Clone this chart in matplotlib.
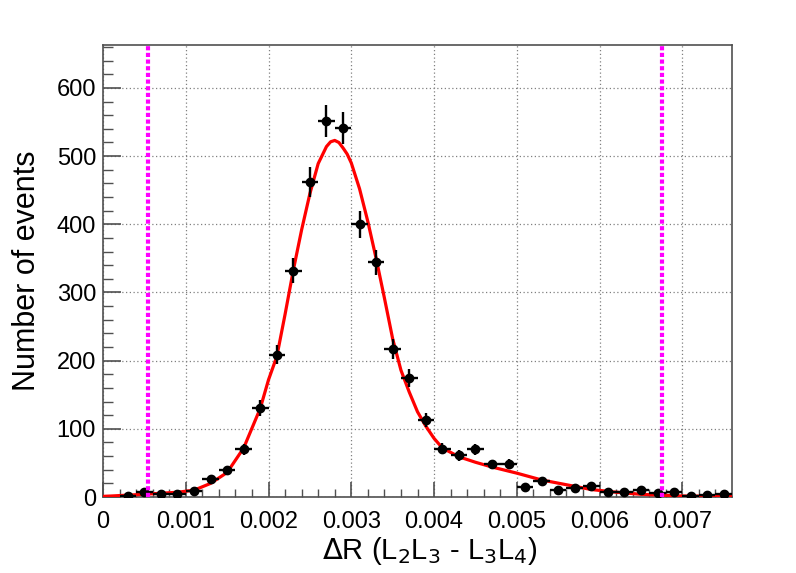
import numpy as np
import matplotlib
matplotlib.use("Agg")
import matplotlib.pyplot as plt

plt.rcParams['font.family'] = ['Liberation Sans', 'DejaVu Sans']

# Histogram: bin centres (width 0.0002) and counts
bin_centers = np.arange(0.0001, 0.0076, 0.0002)
counts = np.array([0, 1, 8, 4, 4, 9, 26, 39, 70, 131,
                   209, 332, 462, 551, 541, 400, 344, 217, 175, 113,
                   71, 61, 70, 48, 49, 15, 23, 11, 13, 16,
                   7, 7, 11, 6, 7, 1, 3, 4])

fit_x = [0, 0.0001, 0.0005, 0.0009, 0.0011, 0.0013, 0.0015, 0.0017, 0.0019,
         0.0020, 0.0021, 0.0022, 0.0023, 0.0024, 0.0025, 0.0026, 0.0027,
         0.00275, 0.0028, 0.00285, 0.0029, 0.00295,
         0.0030, 0.0031, 0.0032, 0.0033, 0.0034, 0.0035, 0.0036, 0.0037,
         0.0038, 0.0039, 0.0040, 0.0041, 0.0043, 0.0045, 0.0047, 0.0050,
         0.0053, 0.0056, 0.0059, 0.0062, 0.0065, 0.0070, 0.0076]
fit_y = [1, 1.5, 4, 7, 10, 20, 36, 72, 130,
         172, 206, 268, 333, 392, 445, 489, 514,
         521, 523, 520, 512, 503,
         490, 452, 404, 350, 292, 232, 186, 154,
         125, 104, 86, 72, 59, 51, 44, 35,
         25, 18, 11, 7, 4, 1.5, 1]

# selection window
cut_lo = 0.00054
cut_hi = 0.00676

fig = plt.figure(figsize=(7.96, 5.73), dpi=100)
ax = fig.add_axes([0.1294, 0.1326, 0.7902, 0.7889])

ax.set_xlim(0, 0.0076)
ax.set_ylim(0, 663)
ax.grid(True, color='#808080', linestyle=(0, (1, 2)), linewidth=0.9)
ax.set_axisbelow(True)

ax.plot(fit_x, fit_y, color='#ff0000', linewidth=2.3, zorder=3)

# empty bins are not drawn
mask = counts > 0
ax.errorbar(bin_centers[mask], counts[mask], xerr=0.0001,
            yerr=np.sqrt(counts[mask]),
            fmt='o', color='black', markersize=6, elinewidth=1.7,
            capsize=0, zorder=4)

for xc in (cut_lo, cut_hi):
    ax.axvline(xc, color='#ff00ff', linewidth=3, linestyle=(0, (1, 0.6)), zorder=5)

ax.set_xticks(np.arange(0, 0.0071, 0.001))
ax.set_xticklabels(['0', '0.001', '0.002', '0.003', '0.004', '0.005', '0.006', '0.007'])
ax.set_xticks(np.arange(0, 0.0076, 0.0002), minor=True)
ax.set_yticks(np.arange(0, 601, 100))
ax.set_yticks(np.arange(0, 661, 20), minor=True)

ax.tick_params(axis='both', which='both', direction='in', top=False, right=False,
               labelsize=17, color='#505050')
ax.tick_params(axis='x', which='major', length=11, width=1.2, pad=10)
ax.tick_params(axis='x', which='minor', length=6, width=1.0)
ax.tick_params(axis='y', which='major', length=13, width=1.2, pad=5)
ax.tick_params(axis='y', which='minor', length=7, width=1.0)

for s in ax.spines.values():
    s.set_color('#505050')
    s.set_linewidth(1.2)

ax.set_xlabel(r'$\Delta$R (L$_2$L$_3$ - L$_3$L$_4$)', fontsize=21)
ax.xaxis.set_label_coords(0.52, -0.085)
ax.set_ylabel('Number of events', fontsize=22)
ax.yaxis.set_label_coords(-0.097, 0.5)

fig.savefig('out.png', dpi=100)
